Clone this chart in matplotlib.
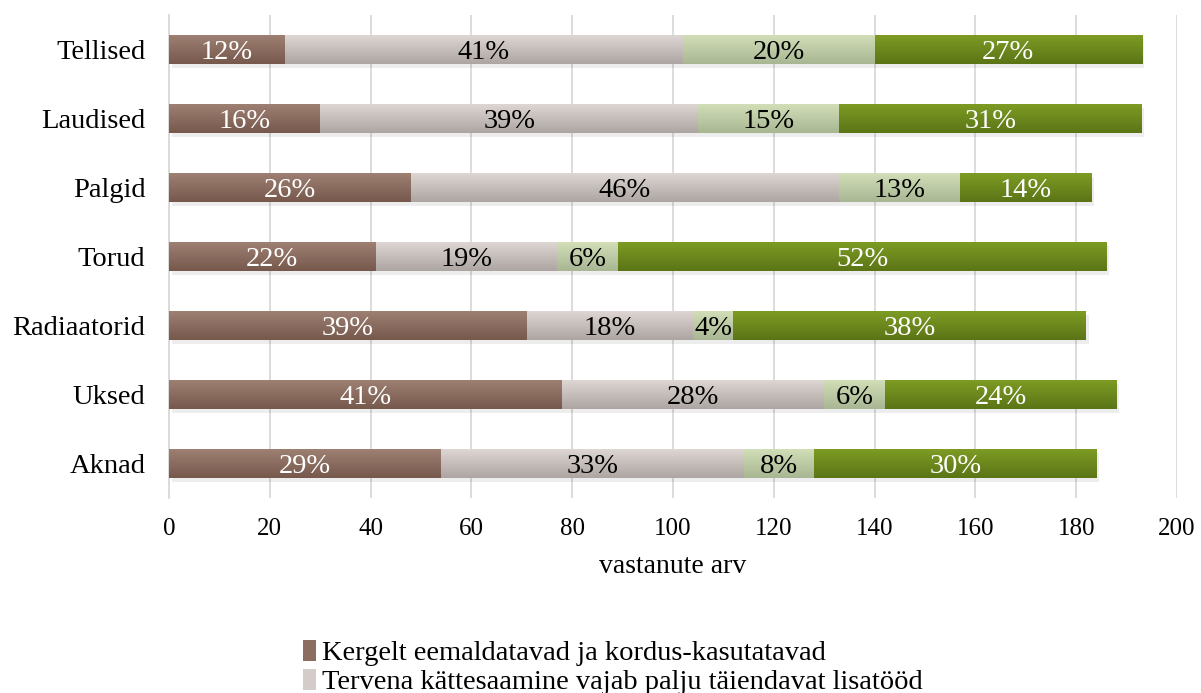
import matplotlib
matplotlib.use("Agg")
import matplotlib.pyplot as plt
import numpy as np
from matplotlib.patches import Patch, Rectangle
from matplotlib.colors import LinearSegmentedColormap

plt.rcParams['font.family'] = ['Liberation Serif', 'DejaVu Serif']

categories = ["Aknad", "Uksed", "Radiaatorid", "Torud", "Palgid", "Laudised", "Tellised"]
s1 = [54, 78, 71, 41, 48, 30, 23]
s2 = [60, 52, 33, 36, 85, 75, 79]
s3 = [14, 12, 8, 12, 24, 28, 38]
s4 = [56, 46, 70, 97, 26, 60, 53]
series = [s1, s2, s3, s4]
legend_labels = ["Kergelt eemaldatavad ja kordus-kasutatavad",
                 "Tervena kättesaamine vajab palju täiendavat lisatööd"]

tops = ["#9d8072", "#ddd6d3", "#d1deb7", "#7d9b24"]
bots = ["#76594c", "#ada5a2", "#a8b693", "#5b7516"]
base = ["#8c6e61", "#d3ccc9", "#c3d3a9", "#6e8c1f"]
txtcol = ["white", "black", "black", "white"]

fig = plt.figure(figsize=(12.01, 6.93), dpi=100)
ax = fig.add_axes([0.1407, 0.282, 0.8393, 0.697])

y = np.arange(len(categories))
h = 0.42
left = np.zeros(len(categories))
totals = np.sum(series, axis=0)
grad = np.linspace(0, 1, 64).reshape(-1, 1)
for k, vals in enumerate(series):
    vals = np.array(vals)
    bars = ax.barh(y, vals, left=left, height=h, color=base[k], zorder=3)
    cmap = LinearSegmentedColormap.from_list("g%d" % k, [bots[k], tops[k]])
    for b, v, l, yi, t in zip(bars, vals, left, y, totals):
        ax.add_patch(Rectangle((l + 0.5, yi - h / 2 - 0.06), v, h,
                               color="#000000", alpha=0.07, zorder=2, lw=0))
        im = ax.imshow(grad, cmap=cmap, aspect="auto", origin="lower",
                       extent=(l, l + v, yi - h / 2, yi + h / 2), zorder=3.5,
                       interpolation="bilinear")
        im.set_clip_path(b)
        ax.text(l + v / 2, yi, "%d%%" % round(100 * v / t), ha="center",
                va="center_baseline", color=txtcol[k], fontsize=20.5, zorder=5)
    left = left + vals

ax.set_xlim(0, 200)
ax.set_ylim(-0.5, len(categories) - 0.5)
ax.set_xticks(np.arange(0, 201, 20))
ax.set_yticks(y)
ax.set_yticklabels(categories, fontsize=20.5)
ax.tick_params(axis="x", labelsize=18, length=0, pad=15)
ax.tick_params(axis="y", length=0, pad=17)
ax.grid(axis="x", color="#d9d9d9", lw=1.3, zorder=0)
ax.set_axisbelow(True)
for s in ["top", "right", "bottom"]:
    ax.spines[s].set_visible(False)
ax.spines["left"].set_color("#d9d9d9")
ax.spines["left"].set_linewidth(1.3)
ax.set_xlabel("vastanute arv", fontsize=20, labelpad=10)

handles = [Patch(facecolor=base[0]), Patch(facecolor=base[1])]
fig.legend(handles, legend_labels, loc="lower left", bbox_to_anchor=(0.231, -0.04),
           frameon=False, fontsize=20.5, handlelength=0.45, handleheight=0.75,
           handletextpad=0.2, labelspacing=0.08)

fig.savefig("out.png", dpi=100)
